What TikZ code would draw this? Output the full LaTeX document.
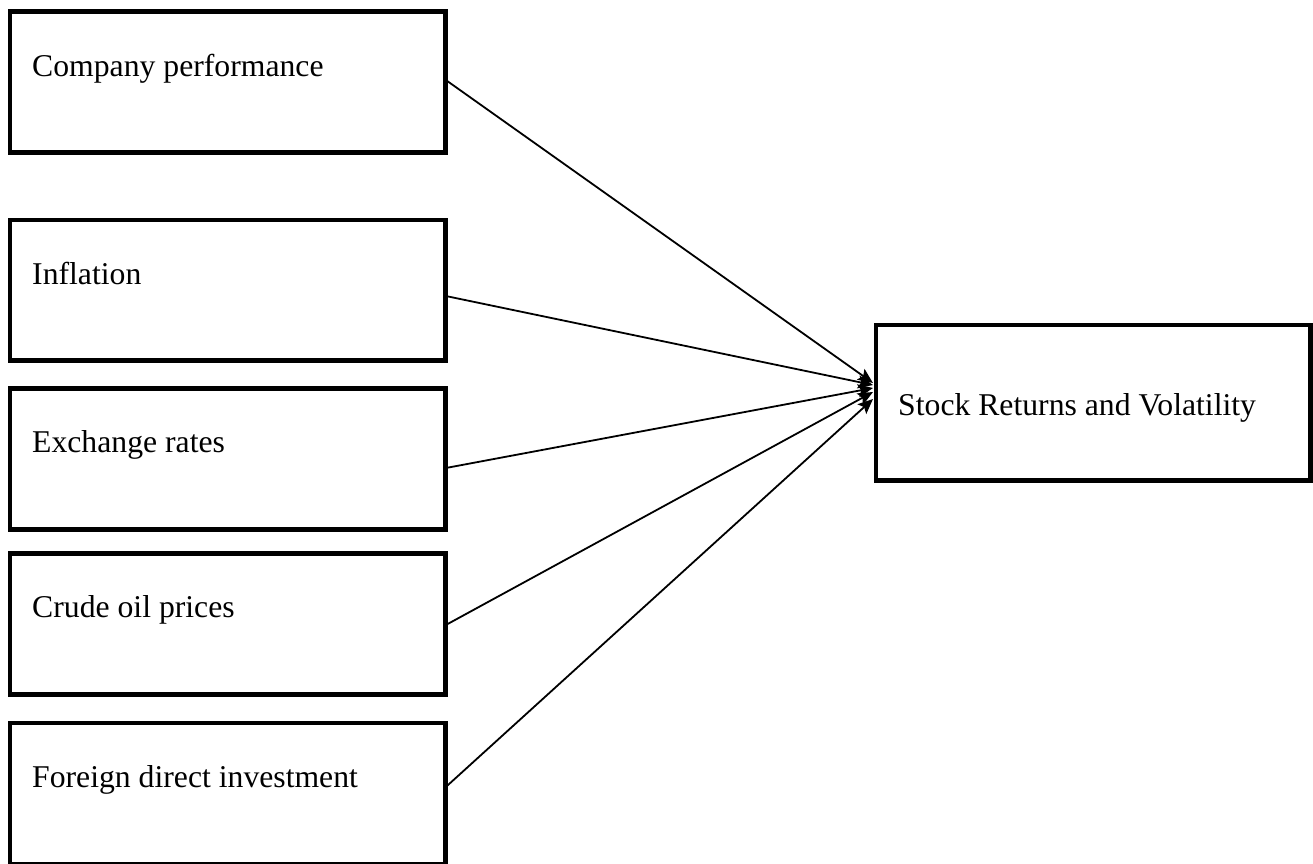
\documentclass[tikz,border=0pt]{standalone}
\usepackage{fontspec}
\setmainfont{Liberation Serif}
\usetikzlibrary{arrows.meta,calc}
\begin{document}
\begin{tikzpicture}[x=1pt,y=-1pt,
  box/.style={draw, line width=4.8pt, rectangle, inner sep=0pt, outer sep=0pt, anchor=north west, minimum width=435.8pt, minimum height=140.8pt},
  lbl/.style={anchor=base west, inner sep=0pt, font=\fontsize{31.7}{36}\selectfont},
  conn/.style={line width=1.8pt, -{Stealth[length=15pt,width=13pt,inset=3pt]}}]
\useasboundingbox (0,0) rectangle (1313,863);
\node[box] (b1) at (10,11.7) {};
\node[box] (b2) at (10,220) {};
\node[box] (b3) at (10,388.5) {};
\node[box] (b4) at (10,553.5) {};
\node[box, minimum height=141pt] (b5) at (10,723) {};
\node[box, minimum width=434.5pt, minimum height=155.5pt] (s) at (876,325) {};
\node[lbl] (t1) at ($(b1.north west)+(22,64.3)$) {Company performance};
\node[lbl] (t2) at ($(b2.north west)+(22,64.3)$) {Inflation};
\node[lbl] (t3) at ($(b3.north west)+(22,64.3)$) {Exchange rates};
\node[lbl] (t4) at ($(b4.north west)+(22,64.3)$) {Crude oil prices};
\node[lbl] (t5) at ($(b5.north west)+(22,64.3)$) {Foreign direct investment};
\node[lbl] (ts) at ($(s.north west)+(22,90)$) {Stock Returns and Volatility};
\draw[conn] ($(b1.north east)+(0,68.3)$) -- ($(s.north west)+(-3,58)$);
\draw[conn] ($(b2.north east)+(0,76)$) -- ($(s.north west)+(-3,60)$);
\draw[conn] ($(b3.north east)+(0,79.5)$) -- ($(s.north west)+(-3,63)$);
\draw[conn] ($(b4.north east)+(0,71.5)$) -- ($(s.north west)+(-3,67)$);
\draw[conn] ($(b5.north east)+(0,64)$) -- ($(s.north west)+(-3,74)$);
\end{tikzpicture}
\end{document}
